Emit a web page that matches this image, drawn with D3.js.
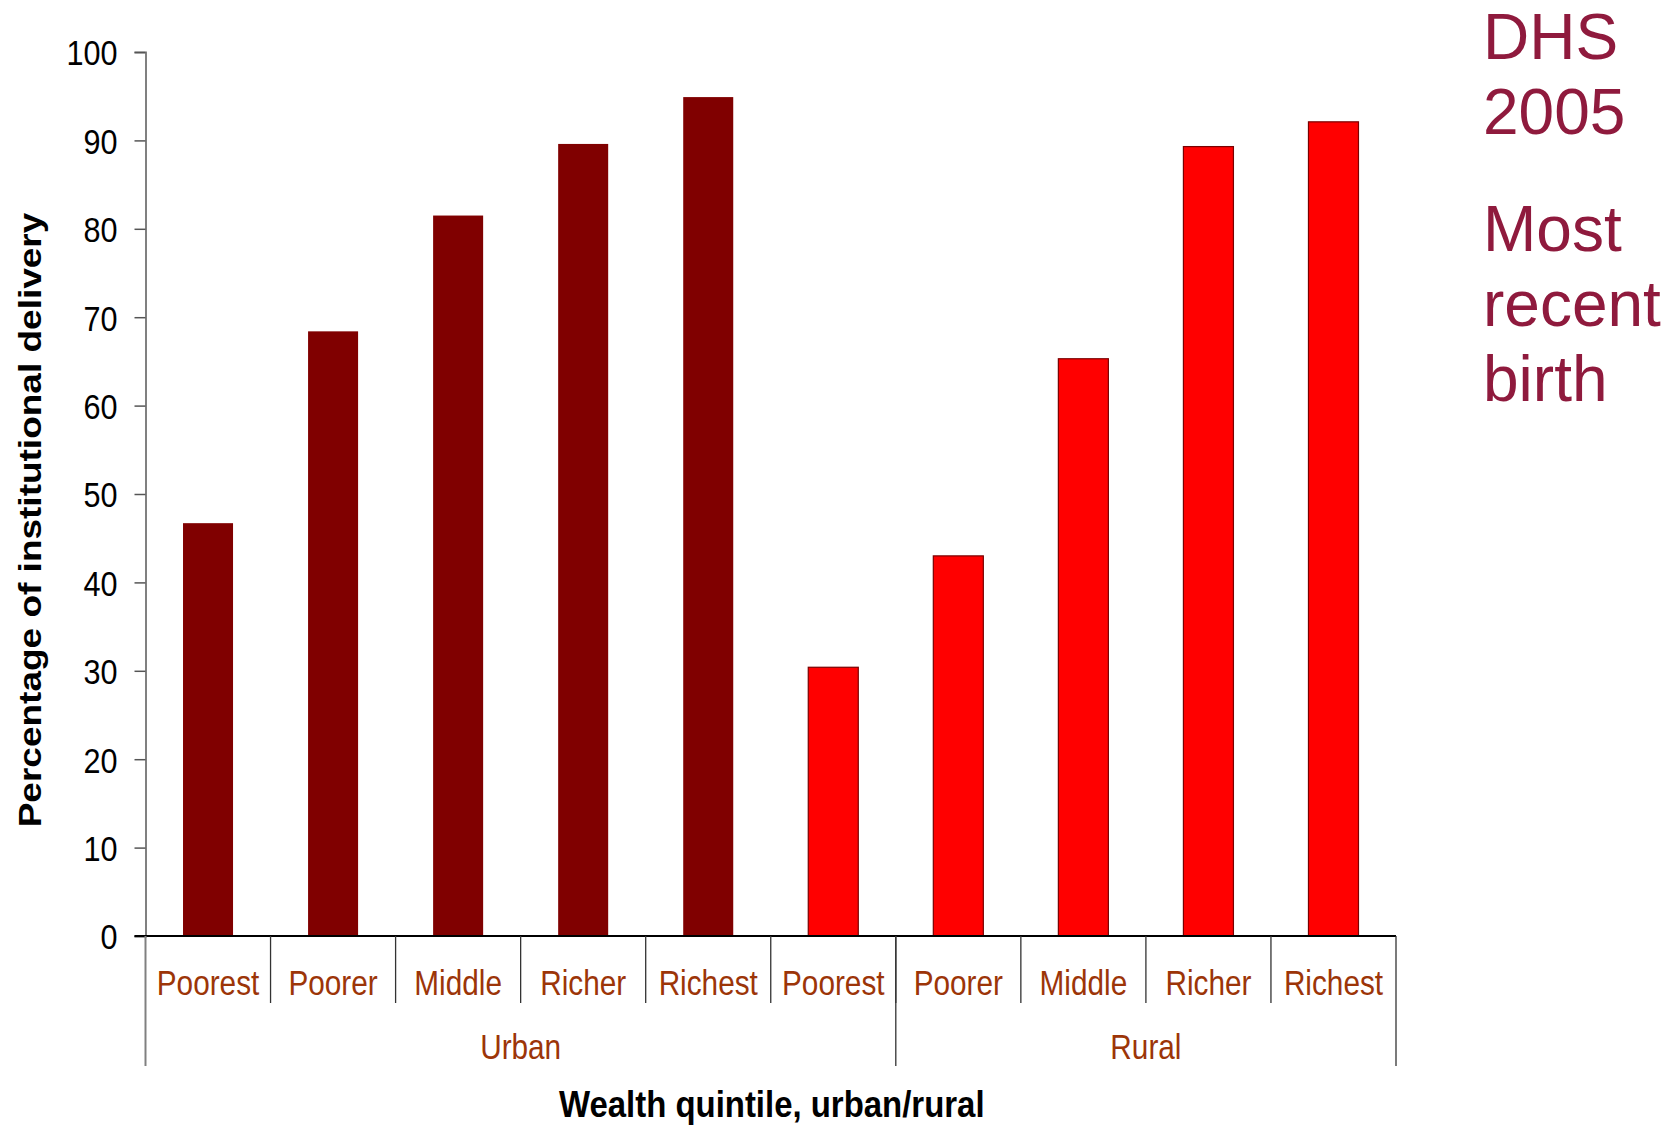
<!DOCTYPE html>
<html>
<head>
<meta charset="utf-8">
<script src="https://cdn.jsdelivr.net/npm/d3@7"></script>
<style>
  html, body { margin: 0; padding: 0; background: #fff; }
  svg { display: block; }
  text { font-family: "Liberation Sans", Arial, sans-serif; }
</style>
</head>
<body>
<svg id="chart" width="1677" height="1126"></svg>
<script>
// Institutional delivery by wealth quintile, DHS 2005
const quintiles = ["Poorest", "Poorer", "Middle", "Richer", "Richest"];
const urbanValues = [46.7, 68.4, 81.5, 89.6, 94.9];
const ruralValues = [30.4, 43.0, 65.3, 89.3, 92.1];
const seriesNames = ["Urban", "Rural"];
// group labels on the category axis and how many categories each spans
const groupLabels = ["Urban", "Rural"];
const groupSpans = [6, 4];
const yTicks = [0, 10, 20, 30, 40, 50, 60, 70, 80, 90, 100];
const sideNotes = [["DHS", "2005"], ["Most", "recent", "birth"]];

const colors = { Urban: "#800000", Rural: "#ff0000" };
const labelColor = "#9c3508";
const noteColor = "#8f1a3d";
const squeeze = 0.85; // horizontal compression of chart lettering

const rows = [];
seriesNames.forEach((s, si) => {
  const vals = si === 0 ? urbanValues : ruralValues;
  quintiles.forEach((q, qi) => rows.push({ key: s + "-" + q, series: s, label: q, value: vals[qi] }));
});

const svg = d3.select("#chart");
const plotLeft = 145.5, plotRight = 1396, plotTop = 52, plotBottom = 936;

const x = d3.scaleBand().domain(rows.map(d => d.key)).range([plotLeft, plotRight])
  .paddingInner(0.6).paddingOuter(0.3);
const step = x.step();
const y = d3.scaleLinear().domain([0, 100]).range([plotBottom, plotTop]);

// bars
svg.append("g").selectAll("rect").data(rows).join("rect")
  .attr("x", d => x(d.key))
  .attr("y", d => y(d.value))
  .attr("width", x.bandwidth())
  .attr("height", d => y(0) - y(d.value))
  .attr("fill", d => colors[d.series])
  .attr("stroke", d => d.series === "Rural" ? "#7a0000" : "none")
  .attr("stroke-width", 1.2);

// y axis
const yAxis = svg.append("g").attr("transform", `translate(${plotLeft},0)`)
  .call(d3.axisLeft(y).tickValues(yTicks).tickSize(11).tickPadding(0));
yAxis.select(".domain").attr("stroke", "#808080").attr("stroke-width", 2);
yAxis.selectAll(".tick line").attr("stroke", "#555").attr("stroke-width", 1.5);
yAxis.selectAll(".tick text")
  .attr("x", -28 / squeeze)
  .attr("dy", "0.36em")
  .attr("transform", `scale(${squeeze},1)`)
  .attr("font-size", 36)
  .attr("fill", "#000");

// category axis: baseline, dividers, labels
const axisG = svg.append("g");
axisG.append("line").attr("x1", plotLeft - 11).attr("x2", plotRight)
  .attr("y1", y(0)).attr("y2", y(0)).attr("stroke", "#000").attr("stroke-width", 1.8);

const catBottom = 1003, groupBottom = 1066;
rows.forEach((d, i) => {
  if (i > 0) {
    const bx = x(d.key) - (step - x.bandwidth()) / 2;
    axisG.append("line").attr("x1", bx).attr("x2", bx)
      .attr("y1", y(0)).attr("y2", catBottom).attr("stroke", "#333").attr("stroke-width", 1.3);
  }
  const cx = x(d.key) + x.bandwidth() / 2;
  axisG.append("text")
    .attr("transform", `translate(${cx},995) scale(${squeeze},1)`)
    .attr("text-anchor", "middle").attr("font-size", 35).attr("fill", labelColor)
    .text(d.label);
});

// group spans
let startIdx = 0;
groupLabels.forEach((g, gi) => {
  const x0 = plotLeft + startIdx * step;
  const x1 = plotLeft + (startIdx + groupSpans[gi]) * step;
  axisG.append("line").attr("x1", x0).attr("x2", x0).attr("y1", y(0)).attr("y2", groupBottom)
    .attr("stroke", gi === 0 ? "#808080" : "#333").attr("stroke-width", gi === 0 ? 2 : 1.3);
  if (gi === groupLabels.length - 1) {
    axisG.append("line").attr("x1", x1).attr("x2", x1).attr("y1", y(0)).attr("y2", groupBottom)
      .attr("stroke", "#333").attr("stroke-width", 1.3);
  }
  axisG.append("text")
    .attr("transform", `translate(${(x0 + x1) / 2},1059) scale(${squeeze},1)`)
    .attr("text-anchor", "middle").attr("font-size", 35).attr("fill", labelColor)
    .text(g);
  startIdx += groupSpans[gi];
});

// axis titles
svg.append("text")
  .attr("transform", `translate(${(plotLeft + plotRight) / 2 + 1},1117) scale(0.89,1)`)
  .attr("text-anchor", "middle").attr("font-size", 37).attr("font-weight", "bold")
  .attr("fill", "#000").text("Wealth quintile, urban/rural");

svg.append("text")
  .attr("transform", `translate(41,520) scale(${squeeze},1) rotate(-90)`)
  .attr("text-anchor", "middle").attr("font-size", 37).attr("font-weight", "bold")
  .attr("fill", "#000").text("Percentage of institutional delivery");

// side notes
const noteBaselines = [[59, 134], [251, 326, 401]];
sideNotes.forEach((block, bi) => {
  block.forEach((line, li) => {
    svg.append("text").attr("x", 1483).attr("y", noteBaselines[bi][li])
      .attr("font-size", 64).attr("fill", noteColor).text(line);
  });
});
</script>
</body>
</html>
